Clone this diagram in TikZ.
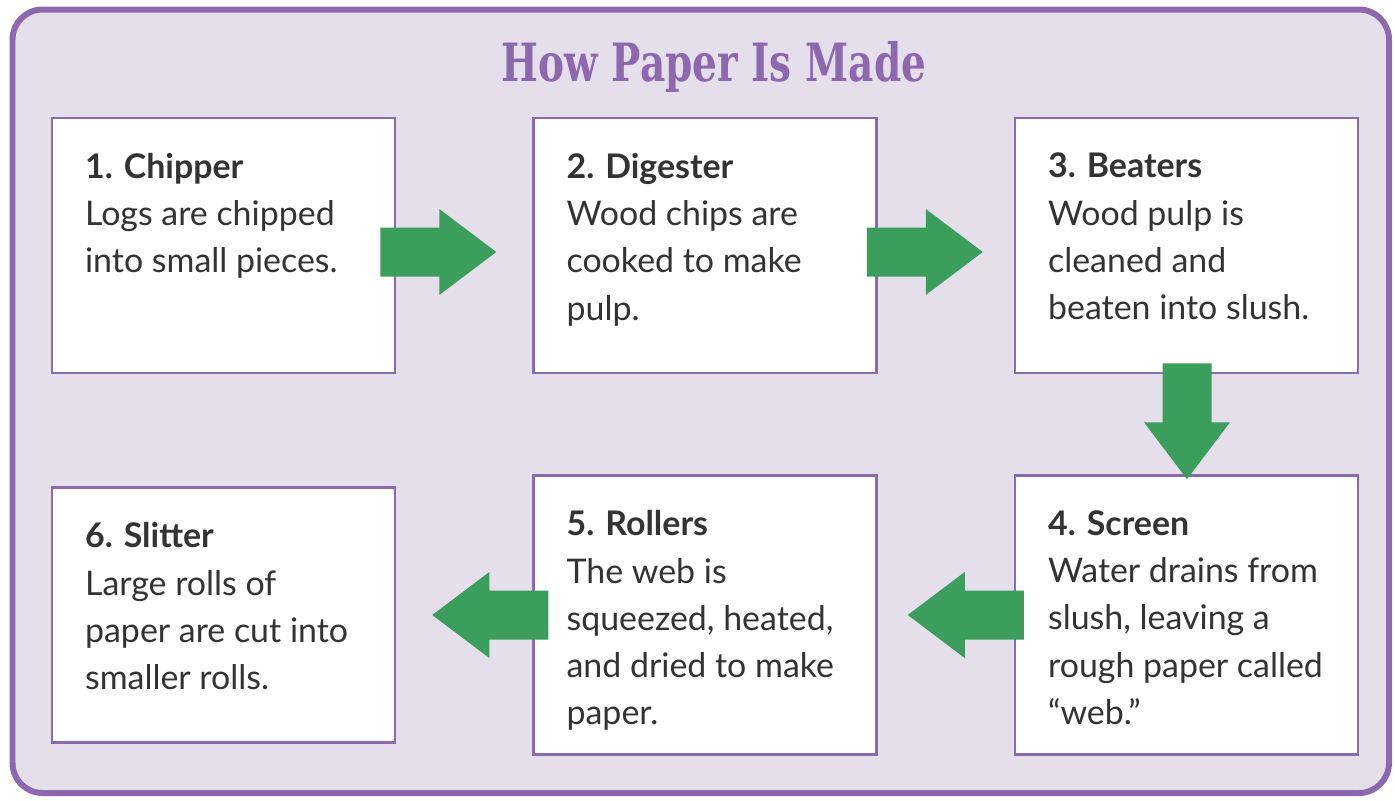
\documentclass[tikz,border=0pt]{standalone}
\usepackage{fontspec}
\setmainfont{Lato}
\newfontfamily\titlefont[FakeStretch=0.74]{DejaVu Serif}
\usetikzlibrary{positioning,calc}
\definecolor{framepurple}{HTML}{8D68AF}
\definecolor{boxpurple}{HTML}{8A6BAD}
\definecolor{lavender}{HTML}{E4DFEA}
\definecolor{arrowgreen}{HTML}{3C9E5C}
\definecolor{inkgray}{HTML}{333333}

% block arrow, tail at #1, turned by #2
\newcommand{\flowarrow}[2]{%
  \fill[arrowgreen, shift={#1}, rotate=#2]
    (0,-0.49) -- (1.18,-0.49) -- (1.18,-0.86) -- (2.32,0)
    -- (1.18,0.86) -- (1.18,0.49) -- (0,0.49) -- cycle;}

\begin{document}
\begin{tikzpicture}[
  node distance=2.72cm,
  stepbox/.style={rectangle, draw=boxpurple, line width=0.05cm, fill=white,
    minimum width=6.86cm, minimum height=5.1cm, inner sep=0pt},
  steptext/.style={anchor=north west, align=left, inner sep=0pt,
    text=inkgray, font=\fontsize{19.3}{26.9}\selectfont},
  title/.style={font=\titlefont\bfseries\fontsize{30}{36}\selectfont, text=framepurple}
]
  \useasboundingbox (0,0) rectangle (27.9,-16.02);
  % Frame
  \draw[framepurple, line width=0.12cm, fill=lavender, rounded corners=0.6cm]
    (0.25,-0.19) rectangle (27.78,-15.86);
  \node[title, anchor=base] (head) at (14.28,-1.62) {How Paper Is Made};

  % Top row
  \node[stepbox] (chipper) at (4.47,-4.91) {};
  \node[stepbox, right=of chipper] (digester) {};
  \node[stepbox, right=of digester] (beaters) {};

  % Bottom row
  \node[stepbox, minimum height=5.58cm, below=2cm of beaters] (screen) {};
  \node[stepbox, minimum height=5.58cm, left=of screen] (rollers) {};
  \node[stepbox, left=of rollers] (slitter) {};

  % Texts
  \node[steptext] (t1) at ([shift={(0.68,-0.72)}]chipper.north west)
    {\textbf{1. Chipper}\\Logs are chipped\\into small pieces.};
  \node[steptext] (t2) at ([shift={(0.68,-0.72)}]digester.north west)
    {\textbf{2. Digester}\\Wood chips are\\cooked to make\\pulp.};
  \node[steptext] (t3) at ([shift={(0.68,-0.72)}]beaters.north west)
    {\textbf{3. Beaters}\\Wood pulp is\\cleaned and\\beaten into slush.};
  \node[steptext] (t4) at ([shift={(0.68,-0.72)}]screen.north west)
    {\textbf{4. Screen}\\Water drains from\\slush, leaving a\\rough paper called\\“web.”};
  \node[steptext] (t5) at ([shift={(0.68,-0.72)}]rollers.north west)
    {\textbf{5. Rollers}\\The web is\\squeezed, heated,\\and dried to make\\paper.};
  \node[steptext] (t6) at ([shift={(0.68,-0.72)}]slitter.north west)
    {\textbf{6. Slitter}\\Large rolls of\\paper are cut into\\smaller rolls.};

  % Arrows
  \flowarrow{($(chipper.east)+(-0.32,-0.13)$)}{0}
  \flowarrow{($(digester.east)+(-0.22,-0.13)$)}{0}
  \flowarrow{($(beaters.south)+(0.01,0.22)$)}{-90}
  \flowarrow{($(screen.west)+(0.2,0)$)}{180}
  \flowarrow{($(rollers.west)+(0.32,0)$)}{180}
\end{tikzpicture}
\end{document}
